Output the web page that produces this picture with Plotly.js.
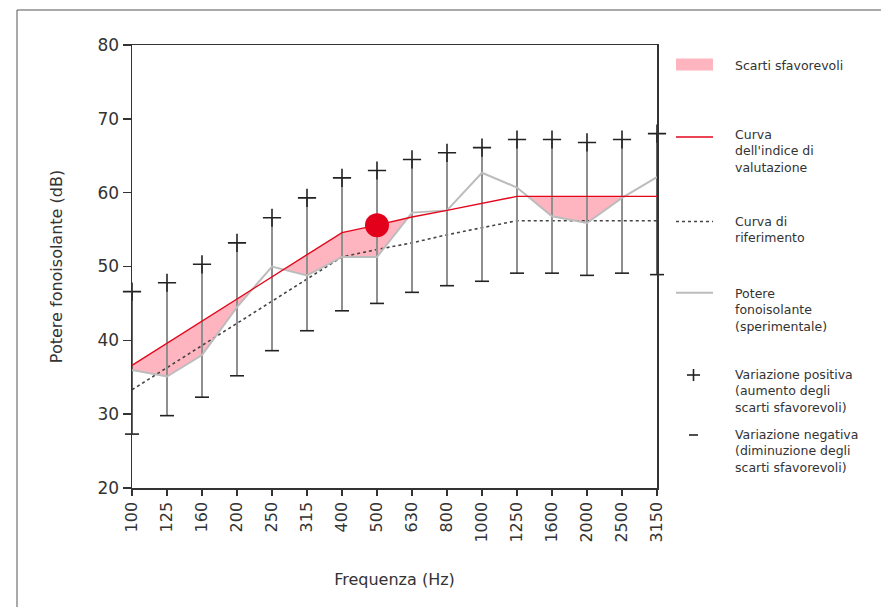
<!DOCTYPE html>
<html>
<head>
<meta charset="utf-8">
<script src="https://cdn.plot.ly/plotly-3.0.1.min.js"></script>
<style>html,body{margin:0;padding:0;background:#fff;}#chart{width:881px;height:607px;}</style>
</head>
<body>
<div id="chart"></div>
<script>
// ---- data ----
const freqs = ['100','125','160','200','250','315','400','500','630','800','1000','1250','1600','2000','2500','3150'];
const refCurve = [33.3,36.3,39.3,42.3,45.3,48.4,51.3,52.3,53.2,54.3,55.3,56.2,56.2,56.2,56.2,56.2];
const ratingCurve = [36.6,39.6,42.6,45.6,48.6,51.6,54.6,55.6,56.7,57.6,58.6,59.5,59.5,59.5,59.5,59.5];
const measured = [36.0,35.1,38.0,44.5,50.0,48.8,51.3,51.3,57.3,57.6,62.7,60.7,56.8,55.9,59.3,62.1];
const varPos = [46.6,47.8,50.3,53.2,56.6,59.3,62.0,63.0,64.5,65.4,66.1,67.2,67.2,66.8,67.2,68.0];
const varNeg = [27.3,29.8,32.3,35.2,38.6,41.3,44.0,45.0,46.5,47.4,48.0,49.1,49.1,48.8,49.1,48.9];
const ratingFreq = '500';
const ratingValue = 55.6;

const legendLabels = [
  'Scarti sfavorevoli',
  'Curva<br>dell\'indice di<br>valutazione',
  'Curva di<br>riferimento',
  'Potere<br>fonoisolante<br>(sperimentale)',
  'Variazione positiva<br>(aumento degli<br>scarti sfavorevoli)',
  'Variazione negativa<br>(diminuzione degli<br>scarti sfavorevoli)'
];

// ---- derived ----
const idx = freqs.map((f, i) => i);
const last = idx.length - 1;

// unfavourable deviations polygon (between rating curve and measured where measured < rating)
const fx = [], fu = [], fl = [];
for (let i = 0; i < idx.length; i++) {
  fx.push(i); fu.push(ratingCurve[i]); fl.push(Math.min(measured[i], ratingCurve[i]));
  if (i < last) {
    const d0 = ratingCurve[i] - measured[i], d1 = ratingCurve[i + 1] - measured[i + 1];
    if (d0 * d1 < 0) {
      const t = d0 / (d0 - d1);
      const u = ratingCurve[i] + t * (ratingCurve[i + 1] - ratingCurve[i]);
      fx.push(i + t); fu.push(u); fl.push(u);
    }
  }
}
const polyX = fx.concat(fx.slice().reverse());
const polyY = fu.concat(fl.slice().reverse());

// variation bars: inner ones gray, the ones lying on the frame edges dark
const barX = [], barY = [], edgeX = [], edgeY = [];
idx.forEach(i => {
  if (i === 0 || i === last) { edgeX.push(i, i, null); edgeY.push(varNeg[i], varPos[i], null); }
  else { barX.push(i, i, null); barY.push(varNeg[i], varPos[i], null); }
});

const txtColor = '#333';
const font = 'DejaVu Sans, Arial, sans-serif';

const traces = [
  {x: polyX, y: polyY, mode: 'lines', fill: 'toself', fillcolor: '#ffb5c0',
   line: {width: 0, color: 'rgba(0,0,0,0)'}, hoverinfo: 'skip', showlegend: false},
  {x: idx, y: refCurve, mode: 'lines', line: {color: '#444', width: 1.6, dash: 'dot'}, showlegend: false},
  {x: barX, y: barY, mode: 'lines', line: {color: '#8f8f8f', width: 2}, showlegend: false},
  {x: edgeX, y: edgeY, mode: 'lines', line: {color: '#333', width: 1.5}, cliponaxis: false, showlegend: false},
  {x: idx, y: measured, mode: 'lines', line: {color: '#bcbcbc', width: 2}, showlegend: false},
  {x: idx, y: ratingCurve, mode: 'lines', line: {color: '#e3061b', width: 1.4}, showlegend: false},
  {x: idx, y: varPos, mode: 'markers', cliponaxis: false, marker: {symbol: 'cross-thin', size: 13, line: {color: '#222', width: 1.6}}, showlegend: false},
  {x: idx, y: varNeg, mode: 'markers', cliponaxis: false, marker: {symbol: 'line-ew', size: 10, line: {color: '#222', width: 1.6}}, showlegend: false},
  {x: [freqs.indexOf(ratingFreq)], y: [ratingValue], mode: 'markers', marker: {size: 24, color: '#e2001a'}, showlegend: false}
];

// pixel -> paper helpers for the custom legend / frame
const L = 132, W = 525, T = 45, H = 443;
const PX = p => (p - L) / W;
const PY = p => (T + H - p) / H;

const shapes = [
  // outer frame
  {type: 'line', xref: 'paper', yref: 'paper', x0: PX(17), x1: PX(881), y0: PY(10), y1: PY(10), line: {color: '#555', width: 1}},
  {type: 'line', xref: 'paper', yref: 'paper', x0: PX(17), x1: PX(17), y0: PY(10), y1: PY(607), line: {color: '#555', width: 1}},
  // legend swatches
  {type: 'rect', xref: 'paper', yref: 'paper', x0: PX(676), x1: PX(713), y0: PY(58.5), y1: PY(70.5), fillcolor: '#ffb5c0', line: {width: 0}},
  {type: 'line', xref: 'paper', yref: 'paper', x0: PX(676), x1: PX(713), y0: PY(137), y1: PY(137), line: {color: '#e3061b', width: 1.4}},
  {type: 'line', xref: 'paper', yref: 'paper', x0: PX(676), x1: PX(713), y0: PY(221.5), y1: PY(221.5), line: {color: '#444', width: 1.6, dash: 'dot'}},
  {type: 'line', xref: 'paper', yref: 'paper', x0: PX(676), x1: PX(713), y0: PY(292.7), y1: PY(292.7), line: {color: '#bcbcbc', width: 2}},
  {type: 'line', xref: 'paper', yref: 'paper', x0: PX(687), x1: PX(700), y0: PY(375), y1: PY(375), line: {color: '#222', width: 1.6}},
  {type: 'line', xref: 'paper', yref: 'paper', x0: PX(693.5), x1: PX(693.5), y0: PY(369), y1: PY(381), line: {color: '#222', width: 1.6}},
  {type: 'line', xref: 'paper', yref: 'paper', x0: PX(689), x1: PX(698), y0: PY(435), y1: PY(435), line: {color: '#222', width: 1.6}}
];

const legendY = [65, 151, 229, 310, 390.5, 451];
const annotations = legendLabels.map((t, k) => ({
  xref: 'paper', yref: 'paper', x: PX(733), y: PY(legendY[k]), xanchor: 'left', yanchor: 'middle',
  align: 'left', showarrow: false, text: t, font: {family: font, size: 12.5, color: txtColor}
}));

const layout = {
  width: 881, height: 607,
  margin: {l: L, r: 881 - L - W, t: T, b: 607 - T - H},
  paper_bgcolor: '#fff', plot_bgcolor: '#fff',
  showlegend: false,
  font: {family: font, color: txtColor},
  xaxis: {
    range: [0, 15], tickvals: idx, ticktext: freqs, tickangle: -90,
    ticks: 'outside', ticklen: 6, tickwidth: 1.5, tickcolor: '#333',
    showline: true, mirror: true, linecolor: '#333', linewidth: 1.5,
    showgrid: false, zeroline: false, automargin: false,
    tickfont: {family: font, size: 16, color: txtColor},
    title: {text: 'Frequenza (Hz)', standoff: 32, font: {family: font, size: 16, color: txtColor}}
  },
  yaxis: {
    range: [20, 80], dtick: 10, tick0: 20,
    ticks: 'outside', ticklen: 8, tickwidth: 1.5, tickcolor: '#333',
    showline: true, mirror: true, linecolor: '#333', linewidth: 1.5,
    showgrid: false, zeroline: false, automargin: false,
    tickfont: {family: font, size: 17, color: txtColor},
    title: {text: 'Potere fonoisolante (dB)', standoff: 31, font: {family: font, size: 16, color: txtColor}}
  },
  shapes: shapes,
  annotations: annotations
};

Plotly.newPlot('chart', traces, layout, {displayModeBar: false, staticPlot: true});
</script>
</body>
</html>
